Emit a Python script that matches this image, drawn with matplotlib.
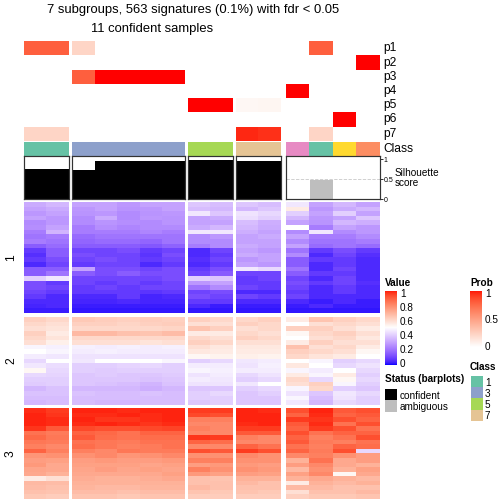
import numpy as np
import matplotlib
matplotlib.use('Agg')
import matplotlib.pyplot as plt
from matplotlib.colors import ListedColormap, to_rgb

plt.rcParams['font.family'] = ['Liberation Sans', 'DejaVu Sans']

W = H = 504

# ---- data ----
sample_class = [1, 1, 3, 3, 3, 3, 3, 5, 5, 7, 7, 4, 1, 6, 2]
confident = [True] * 11 + [False] * 4
silhouette = [0.75, 0.75, 0.73, 0.95, 0.95, 0.95, 0.95, 0.98, 0.98,
              0.96, 0.96, 0.0, 0.49, 0.0, 0.0]
group_sizes = [2, 5, 2, 2, 4]

prob_names = ['p1', 'p2', 'p3', 'p4', 'p5', 'p6', 'p7']
p1 = [0.78, 0.78, 0.22, 0, 0, 0, 0, 0, 0, 0, 0, 0, 0.78, 0, 0]
p2 = [0, 0, 0, 0, 0, 0, 0, 0, 0, 0, 0, 0, 0, 0, 1]
p3 = [0, 0, 0.78, 1, 1, 1, 1, 0, 0, 0, 0, 0, 0, 0, 0]
p4 = [0, 0, 0, 0, 0, 0, 0, 0, 0, 0, 0, 1, 0, 0, 0]
p5 = [0, 0, 0, 0, 0, 0, 0, 1, 1, 0.04, 0.05, 0, 0, 0, 0]
p6 = [0, 0, 0, 0, 0, 0, 0, 0, 0, 0, 0, 0, 0, 1, 0]
p7 = [0.22, 0.22, 0, 0, 0, 0, 0, 0, 0, 0.95, 0.93, 0, 0.22, 0, 0]

class_colors = {1: '#66C2A5', 2: '#FC8D62', 3: '#8DA0CB', 4: '#E78AC3',
                5: '#A6D854', 6: '#FFD92F', 7: '#E5C494'}
legend_classes = [1, 3, 5, 7]

# signature values (x100), rows top to bottom, 15 samples
heat_group1 = [
    [32, 35, 30, 30, 28, 30, 30, 38, 36, 38, 36, 45, 30, 35, 30],
    [30, 32, 28, 30, 27, 28, 30, 36, 35, 35, 38, 55, 28, 32, 35],
    [28, 30, 27, 28, 25, 27, 28, 45, 38, 44, 42, 40, 30, 40, 30],
    [30, 28, 25, 32, 25, 28, 27, 30, 32, 43, 40, 35, 28, 30, 38],
    [25, 28, 25, 27, 26, 25, 27, 30, 30, 36, 33, 30, 27, 35, 33],
    [26, 30, 22, 26, 24, 25, 25, 32, 35, 35, 32, 50, 22, 30, 28],
    [22, 34, 22, 22, 22, 24, 22, 45, 45, 33, 30, 25, 45, 25, 28],
    [20, 22, 18, 20, 20, 20, 20, 25, 28, 30, 32, 30, 22, 22, 25],
    [22, 20, 17, 18, 18, 17, 20, 25, 25, 30, 30, 25, 20, 20, 22],
    [15, 18, 15, 15, 15, 14, 16, 22, 25, 32, 30, 30, 18, 20, 18],
    [8, 15, 10, 10, 12, 8, 10, 5, 10, 30, 28, 20, 8, 12, 8],
    [6, 15, 12, 10, 10, 7, 12, 5, 8, 32, 30, 25, 5, 10, 6],
    [8, 12, 10, 12, 10, 8, 10, 6, 10, 28, 30, 15, 8, 8, 5],
    [5, 10, 8, 10, 10, 5, 8, 5, 8, 30, 28, 15, 5, 8, 5],
    [15, 15, 30, 12, 12, 10, 12, 8, 12, 45, 42, 20, 5, 10, 5],
    [15, 20, 15, 12, 15, 12, 12, 10, 15, 10, 10, 15, 8, 8, 5],
    [40, 45, 10, 10, 10, 10, 12, 40, 38, 8, 10, 10, 5, 10, 5],
    [12, 8, 10, 8, 10, 8, 10, 28, 30, 8, 8, 12, 8, 10, 6],
    [12, 10, 8, 10, 8, 10, 10, 20, 25, 10, 8, 10, 5, 8, 5],
    [10, 8, 8, 8, 8, 7, 8, 10, 12, 5, 5, 8, 5, 8, 5],
    [8, 5, 5, 5, 8, 4, 5, 12, 10, 10, 8, 10, 5, 5, 5],
    [5, 5, 4, 4, 5, 4, 4, 8, 8, 5, 5, 5, 3, 5, 3],
    [4, 5, 3, 3, 3, 3, 3, 5, 3, 3, 3, 3, 5, 3, 3],
    [3, 3, 2, 2, 2, 2, 2, 2, 2, 2, 2, 2, 2, 2, 2],
]
heat_group2 = [
    [62, 60, 64, 63, 62, 63, 62, 62, 60, 60, 62, 55, 65, 62, 60],
    [60, 58, 62, 62, 61, 62, 63, 58, 58, 62, 60, 50, 58, 60, 58],
    [58, 57, 60, 60, 60, 60, 61, 65, 62, 58, 60, 62, 62, 58, 55],
    [62, 55, 68, 68, 66, 65, 67, 55, 55, 60, 58, 52, 60, 62, 58],
    [60, 57, 60, 60, 60, 60, 60, 60, 58, 62, 60, 50, 58, 60, 56],
    [58, 54, 58, 58, 58, 57, 58, 62, 60, 58, 58, 55, 62, 58, 58],
    [48, 47, 47, 46, 47, 46, 47, 58, 56, 56, 56, 66, 58, 60, 55],
    [50, 48, 46, 47, 46, 46, 46, 56, 55, 55, 55, 62, 60, 58, 52],
    [46, 45, 44, 44, 44, 44, 44, 52, 53, 54, 53, 60, 57, 55, 50],
    [42, 50, 45, 50, 50, 50, 48, 40, 42, 45, 46, 50, 48, 40, 42],
    [45, 43, 40, 40, 41, 42, 40, 46, 46, 44, 47, 56, 50, 42, 44],
    [52, 42, 40, 39, 40, 40, 40, 48, 47, 46, 46, 48, 46, 50, 42],
    [42, 41, 38, 39, 38, 38, 39, 44, 46, 42, 44, 55, 48, 55, 40],
    [40, 40, 38, 38, 38, 37, 38, 46, 45, 40, 42, 60, 42, 52, 42],
    [39, 40, 38, 37, 36, 34, 37, 44, 44, 45, 50, 58, 62, 48, 40],
    [35, 37, 35, 35, 35, 33, 35, 38, 38, 40, 42, 48, 60, 40, 38],
    [37, 37, 37, 36, 36, 37, 36, 40, 42, 38, 40, 44, 38, 45, 42],
    [36, 36, 36, 36, 36, 36, 36, 40, 40, 38, 38, 48, 36, 44, 40],
    [35, 36, 36, 35, 35, 36, 36, 38, 40, 38, 38, 45, 35, 42, 40],
]
heat_group3 = [
    [97, 95, 98, 98, 97, 98, 98, 95, 95, 98, 97, 92, 98, 90, 92],
    [98, 96, 97, 97, 98, 97, 98, 93, 92, 98, 98, 88, 97, 88, 90],
    [98, 97, 98, 96, 96, 97, 98, 82, 82, 98, 98, 95, 96, 92, 88],
    [98, 97, 97, 98, 97, 96, 97, 80, 80, 97, 98, 90, 97, 85, 92],
    [96, 90, 93, 92, 92, 93, 94, 82, 80, 95, 95, 88, 95, 92, 85],
    [85, 83, 88, 87, 85, 88, 88, 80, 80, 90, 90, 92, 85, 88, 88],
    [87, 84, 90, 86, 85, 86, 86, 96, 95, 82, 80, 88, 82, 85, 92],
    [84, 83, 85, 84, 83, 85, 85, 88, 86, 80, 80, 90, 83, 82, 85],
    [82, 80, 86, 84, 82, 83, 85, 80, 80, 88, 85, 85, 82, 88, 86],
    [88, 82, 82, 80, 84, 83, 83, 92, 90, 95, 92, 88, 83, 92, 42],
    [77, 78, 78, 80, 77, 78, 80, 78, 78, 80, 78, 80, 82, 78, 75],
    [75, 74, 75, 76, 75, 75, 76, 82, 82, 78, 78, 70, 85, 72, 75],
    [76, 72, 74, 74, 74, 73, 74, 75, 76, 76, 75, 75, 80, 72, 70],
    [73, 72, 73, 75, 73, 74, 73, 82, 78, 78, 76, 68, 78, 70, 74],
    [72, 70, 72, 72, 72, 72, 74, 76, 74, 75, 74, 74, 80, 52, 72],
    [55, 58, 71, 70, 70, 71, 72, 66, 65, 70, 70, 70, 72, 70, 68],
    [68, 67, 70, 70, 70, 70, 70, 66, 66, 68, 66, 55, 70, 68, 70],
    [67, 66, 69, 68, 68, 69, 69, 68, 66, 66, 66, 68, 68, 66, 66],
    [66, 65, 67, 67, 66, 67, 67, 65, 64, 65, 64, 58, 66, 66, 68],
    [64, 63, 65, 65, 64, 65, 65, 63, 63, 63, 63, 62, 64, 64, 65],
]


# ---- colour ramps interpolated in LAB like colorRamp2 ----
def rgb_to_lab(rgb):
    c = np.asarray(rgb, float)
    lin = np.where(c <= 0.04045, c / 12.92, ((c + 0.055) / 1.055) ** 2.4)
    M = np.array([[0.4124, 0.3576, 0.1805],
                  [0.2126, 0.7152, 0.0722],
                  [0.0193, 0.1192, 0.9505]])
    xyz = M @ lin / np.array([0.95047, 1.0, 1.08883])
    f = np.where(xyz > 0.008856, np.cbrt(xyz), 7.787 * xyz + 16 / 116)
    return np.array([116 * f[1] - 16, 500 * (f[0] - f[1]), 200 * (f[1] - f[2])])


def lab_to_rgb(lab):
    L, a, b = lab.T
    fy = (L + 16) / 116
    f = np.stack([fy + a / 500, fy, fy - b / 200], 1)
    xyz = np.where(f ** 3 > 0.008856, f ** 3, (f - 16 / 116) / 7.787)
    xyz = xyz * np.array([0.95047, 1.0, 1.08883])
    Minv = np.array([[3.2406, -1.5372, -0.4986],
                     [-0.9689, 1.8758, 0.0415],
                     [0.0557, -0.2040, 1.0570]])
    lin = np.clip(xyz @ Minv.T, 0, 1)
    rgb = np.where(lin <= 0.0031308, 12.92 * lin, 1.055 * lin ** (1 / 2.4) - 0.055)
    return np.clip(rgb, 0, 1)


def lab_cmap(colors, n=257):
    labs = np.array([rgb_to_lab(to_rgb(c)) for c in colors])
    pos = np.linspace(0, 1, len(colors))
    t = np.linspace(0, 1, n)
    lab = np.stack([np.interp(t, pos, labs[:, i]) for i in range(3)], 1)
    rgb = lab_to_rgb(lab)
    # keep the anchor colours exact
    for p, c in zip(pos, colors):
        rgb[int(round(p * (n - 1)))] = to_rgb(c)
    return ListedColormap(rgb)


heat_cmap = lab_cmap(['blue', 'white', 'red'])
prob_cmap = lab_cmap(['white', 'red'])

# ---- layout (pixels from top-left) ----
fig = plt.figure(figsize=(7, 7), dpi=72)


def px_axes(x0, y0, x1, y1):
    return fig.add_axes([x0 / W, 1 - y1 / H, (x1 - x0) / W, (y1 - y0) / H])


def px_text(x, y, s, **kw):
    fig.text(x / W, 1 - y / H, s, **kw)


col_x = [(24, 69), (72, 185), (188, 233), (236, 281), (286, 380)]
row_y = [(202, 313), (317, 405), (408, 499)]
prob_y = (41.3, 140.7)
class_y = (141.7, 156)
sil_y = (156.3, 199.3)

prob = np.array([p1, p2, p3, p4, p5, p6, p7])
heats = [np.array(h) / 100 for h in (heat_group1, heat_group2, heat_group3)]
starts = np.cumsum([0] + group_sizes)

for g, (x0, x1) in enumerate(col_x):
    sl = slice(starts[g], starts[g + 1])
    n = group_sizes[g]

    ax = px_axes(x0, prob_y[0], x1, prob_y[1])
    ax.imshow(prob[:, sl], cmap=prob_cmap, vmin=0, vmax=1, aspect='auto',
              interpolation='nearest')
    ax.axis('off')

    ax = px_axes(x0, class_y[0], x1, class_y[1])
    cols = np.array([[to_rgb(class_colors[c]) for c in sample_class[sl]]])
    ax.imshow(cols, aspect='auto', interpolation='nearest')
    ax.axis('off')

    ax = px_axes(x0, sil_y[0], x1, sil_y[1])
    bar_cols = ['black' if c else '#BEBEBE' for c in confident[sl]]
    ax.bar(np.arange(n), silhouette[sl], width=1, color=bar_cols, zorder=2)
    ax.axhline(0.5, ls='--', color='#CCCCCC', lw=0.9, zorder=1)
    ax.set_xlim(-0.5, n - 0.5)
    ax.set_ylim(0, 1.08)
    ax.set_xticks([])
    for s in ax.spines.values():
        s.set_color('#333333')
        s.set_linewidth(1.2)
    if g == len(col_x) - 1:
        ax.yaxis.tick_right()
        ax.set_yticks([0, 0.5, 1])
        ax.set_yticklabels(['0', '0.5', '1'], fontsize=7)
        ax.tick_params(axis='y', length=3, pad=0.5, width=0.8)
    else:
        ax.set_yticks([])

    for r, (y0, y1) in enumerate(row_y):
        ax = px_axes(x0, y0, x1, y1)
        ax.imshow(heats[r][:, sl], cmap=heat_cmap, vmin=0, vmax=1,
                  aspect='auto', interpolation='nearest')
        ax.axis('off')

# annotation names
ph = (prob_y[1] - prob_y[0]) / len(prob_names)
for i, name in enumerate(prob_names):
    px_text(383, prob_y[0] + ph * (i + 0.5), name, fontsize=12, va='center')
px_text(383, sum(class_y) / 2, 'Class', fontsize=12, va='center')
px_text(395, 173, 'Silhouette', fontsize=10, va='center')
px_text(395, 183.5, 'score', fontsize=10, va='center')

# row slice labels
for r, (y0, y1) in enumerate(row_y):
    px_text(11, (y0 + y1) / 2, str(r + 1), fontsize=12, rotation=90,
            ha='center', va='center')

# titles
px_text(193, 10, '7 subgroups, 563 signatures (0.1%) with fdr < 0.05',
        fontsize=13, ha='center', va='center')
px_text(152, 29, '11 confident samples', fontsize=13, ha='center', va='center')

# ---- legends ----
grad = np.linspace(0, 1, 256)[:, None]

px_text(385, 283, 'Value', fontsize=10, fontweight='bold', va='center')
ax = px_axes(385, 291, 397, 365)
ax.imshow(grad, cmap=heat_cmap, origin='lower', aspect='auto',
          extent=[0, 1, -0.03, 1.03])
ax.set_ylim(-0.03, 1.03)
ax.set_xticks([])
ax.yaxis.tick_right()
ax.set_yticks([0, 0.2, 0.4, 0.6, 0.8, 1])
ax.set_yticklabels(['0', '0.2', '0.4', '0.6', '0.8', '1'], fontsize=10)
ax.tick_params(axis='y', length=0, pad=3)
for s in ax.spines.values():
    s.set_visible(False)

px_text(470, 283, 'Prob', fontsize=10, fontweight='bold', va='center')
ax = px_axes(470, 291, 482, 347.5)
ax.imshow(grad, cmap=prob_cmap, origin='lower', aspect='auto',
          extent=[0, 1, -0.03, 1.03])
ax.set_ylim(-0.03, 1.03)
ax.set_xticks([])
ax.yaxis.tick_right()
ax.set_yticks([0, 0.5, 1])
ax.set_yticklabels(['0', '0.5', '1'], fontsize=10)
ax.tick_params(axis='y', length=0, pad=3)
for s in ax.spines.values():
    s.set_visible(False)

px_text(470, 367, 'Class', fontsize=10, fontweight='bold', va='center')
ax = px_axes(470.7, 376, 482, 420.7)
ax.imshow(np.array([[to_rgb(class_colors[c])] for c in legend_classes]),
          aspect='auto', interpolation='nearest')
ax.set_xticks([])
ax.yaxis.tick_right()
ax.set_yticks(range(len(legend_classes)))
ax.set_yticklabels([str(c) for c in legend_classes], fontsize=10)
ax.tick_params(axis='y', length=0, pad=3)
for s in ax.spines.values():
    s.set_visible(False)

px_text(385, 379, 'Status (barplots)', fontsize=10, fontweight='bold', va='center')
ax = px_axes(385, 389.3, 396.7, 411.7)
ax.imshow(np.array([[to_rgb('black')], [to_rgb('#BEBEBE')]]), aspect='auto',
          interpolation='nearest')
ax.set_xticks([])
ax.yaxis.tick_right()
ax.set_yticks([0, 1])
ax.set_yticklabels(['confident', 'ambiguous'], fontsize=10)
ax.tick_params(axis='y', length=0, pad=3)
for s in ax.spines.values():
    s.set_visible(False)

fig.savefig('out.png', dpi=72)
